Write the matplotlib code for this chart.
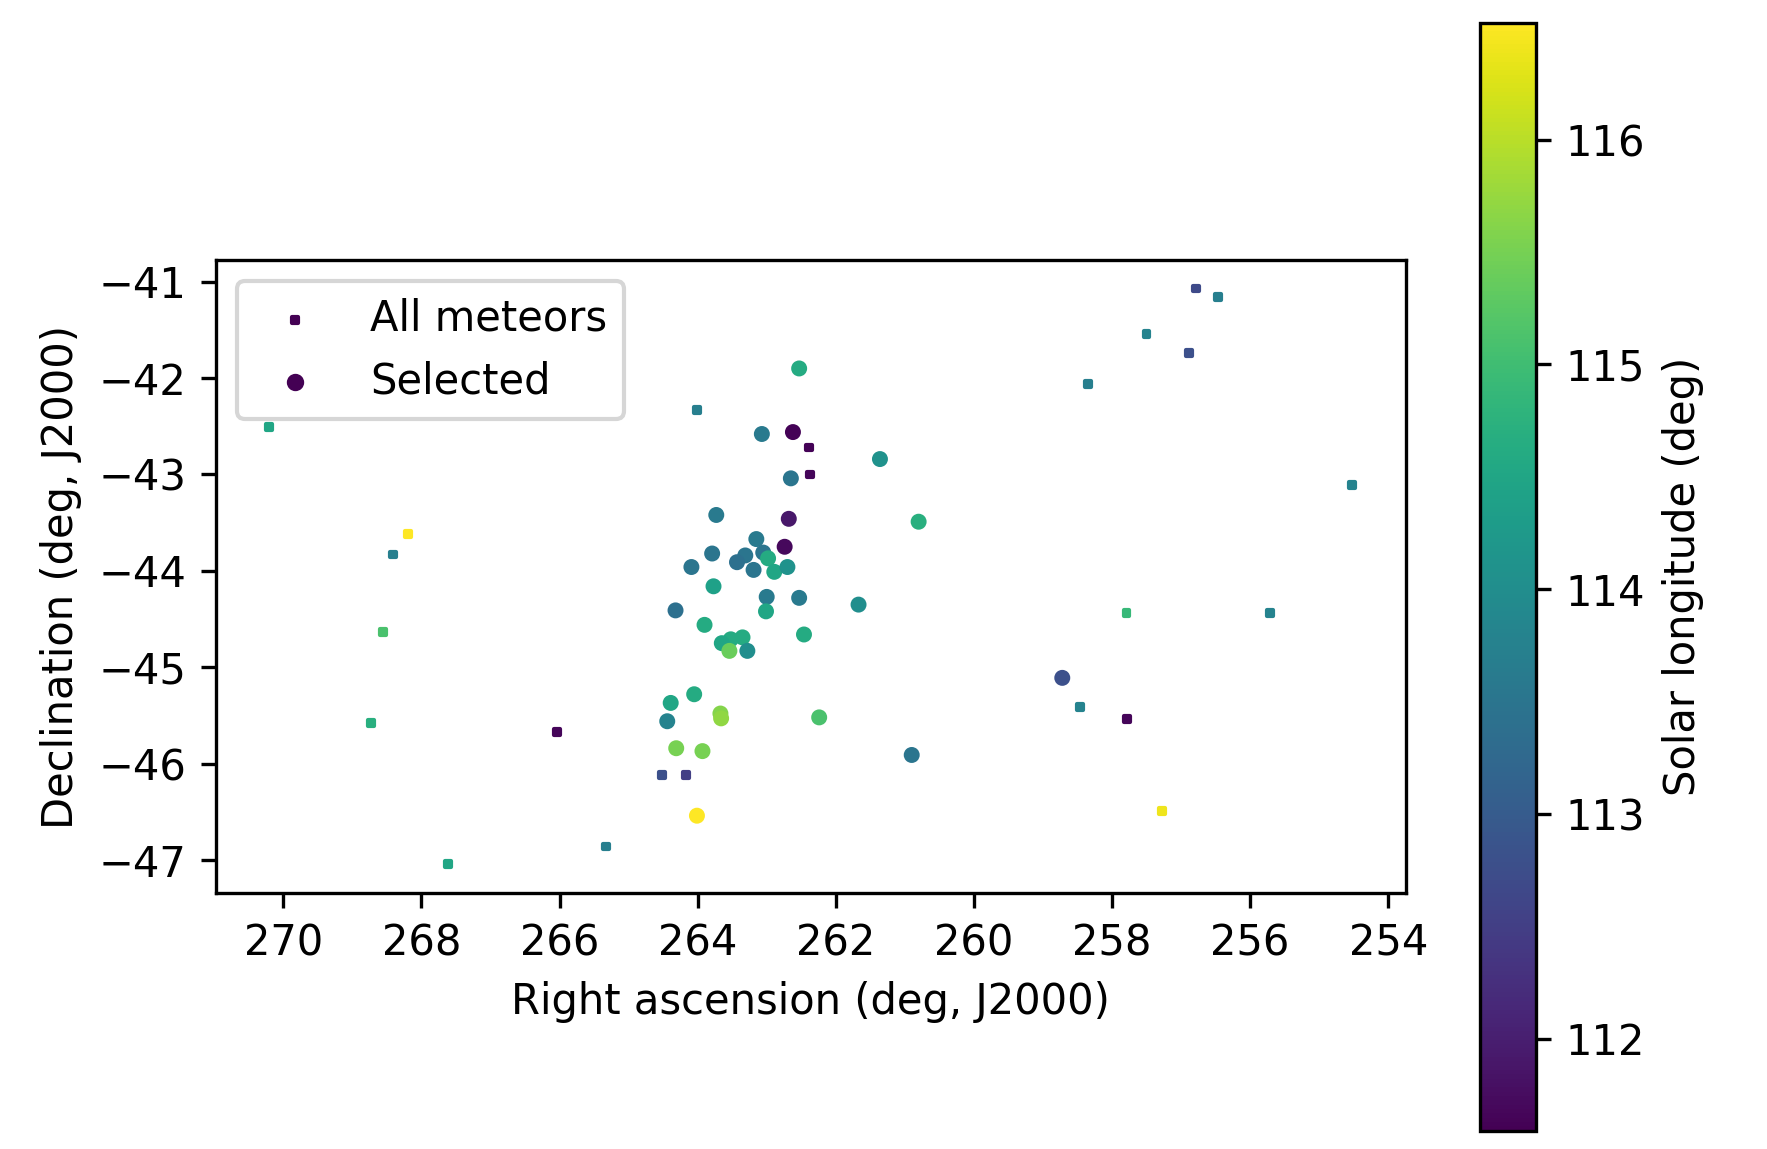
import numpy as np
import matplotlib
matplotlib.use("Agg")
import matplotlib.pyplot as plt
from matplotlib.colors import Normalize

# All meteors (squares)
all_ra = [270.21, 264.01, 262.39, 262.37, 268.19, 268.41, 268.55, 268.73, 266.04,
          264.52, 264.17, 265.33, 267.62, 258.35, 257.50, 256.78, 256.47, 256.88,
          254.52, 257.79, 255.71, 258.46, 257.78, 257.27]
all_dec = [-42.51, -42.33, -42.72, -43.00, -43.62, -43.83, -44.63, -45.58, -45.67,
           -46.12, -46.12, -46.86, -47.04, -42.06, -41.54, -41.07, -41.16, -41.74,
           -43.11, -44.44, -44.44, -45.41, -45.54, -46.49]
all_sol = [114.5, 113.7, 111.62, 111.65, 116.52, 113.7, 115.1, 114.7, 111.65,
           112.8, 112.5, 113.7, 114.5, 113.7, 113.8, 112.7, 113.7, 112.8,
           113.8, 114.9, 113.8, 113.8, 111.65, 116.4]

# Selected meteors (circles)
sel_ra = [262.53, 263.07, 262.62, 262.65, 261.36, 263.73, 262.68, 260.80, 263.15,
          262.74, 263.79, 263.31, 263.05, 263.43, 262.98, 263.19, 262.89, 262.70,
          264.09, 263.77, 263.00, 262.53, 263.01, 261.67, 264.32, 263.90, 262.46,
          263.35, 263.52, 263.65, 263.28, 263.54, 258.72, 264.05, 264.39, 264.44,
          263.67, 263.66, 262.24, 264.31, 263.93, 260.90, 264.01]
sel_dec = [-41.90, -42.58, -42.56, -43.04, -42.84, -43.42, -43.46, -43.49, -43.67,
           -43.75, -43.82, -43.84, -43.81, -43.91, -43.87, -43.99, -44.01, -43.96,
           -43.96, -44.16, -44.27, -44.28, -44.42, -44.35, -44.41, -44.56, -44.66,
           -44.69, -44.71, -44.75, -44.83, -44.83, -45.11, -45.28, -45.37, -45.56,
           -45.48, -45.53, -45.52, -45.84, -45.87, -45.91, -46.54]
sel_sol = [114.6, 113.6, 111.62, 113.5, 114.1, 113.6, 111.9, 114.7, 113.6,
           111.7, 113.5, 113.5, 113.5, 113.4, 114.6, 113.5, 114.5, 114.1,
           113.5, 114.4, 113.6, 113.6, 114.5, 114.0, 113.4, 114.6, 114.6,
           114.6, 114.6, 114.5, 114.0, 115.4, 112.8, 114.6, 114.5, 113.8,
           115.6, 115.7, 115.1, 115.5, 115.5, 113.5, 116.52]

sol_min, sol_max = 111.59, 116.52

fig = plt.figure(figsize=(5.89, 3.83), dpi=300)
ax = fig.add_axes([0.1222, 0.2228, 0.6733, 0.5509])
cax = fig.add_axes([0.8376, 0.0159, 0.0317, 0.9643])

norm = Normalize(vmin=sol_min, vmax=sol_max)
cmap = plt.get_cmap("viridis")

ax.scatter(all_ra, all_dec, c=all_sol, cmap=cmap, norm=norm, marker="s", s=2,
           label="All meteors")
sc = ax.scatter(sel_ra, sel_dec, c=sel_sol, cmap=cmap, norm=norm, marker="o", s=8,
                label="Selected")

ax.set_xlim(270.975, 253.748)
ax.set_ylim(-47.342, -40.775)
ax.set_xticks([270, 268, 266, 264, 262, 260, 258, 256, 254])
ax.set_yticks([-47, -46, -45, -44, -43, -42, -41])
ax.set_xlabel("Right ascension (deg, J2000)")
ax.set_ylabel("Declination (deg, J2000)")

leg = ax.legend(loc="upper left")
for h, sz in zip(leg.legend_handles, [2.2, 10]):
    h.set_array(None)
    h.set_facecolor(cmap(0.0))
    h.set_edgecolor(cmap(0.0))
    h.set_sizes([sz])

cb = fig.colorbar(sc, cax=cax)
cb.set_label("Solar longitude (deg)")
cb.set_ticks([112, 113, 114, 115, 116])

fig.savefig("out.png", dpi=300)
